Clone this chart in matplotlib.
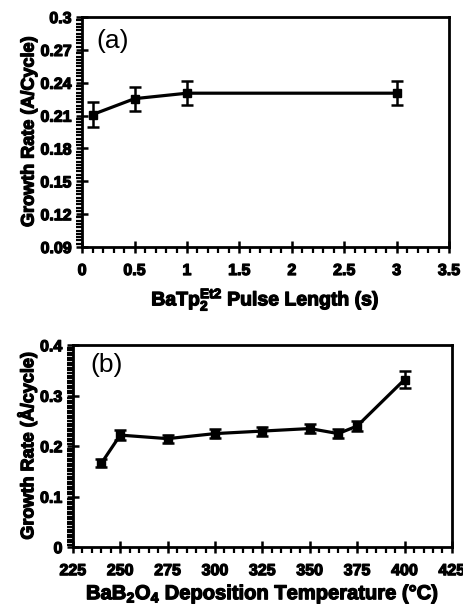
import matplotlib
matplotlib.use("Agg")
import numpy as np
import matplotlib.pyplot as plt
import matplotlib.patheffects as pe

plt.rcParams['font.family'] = ['Liberation Sans', 'DejaVu Sans']
plt.rcParams['mathtext.fontset'] = 'custom'
plt.rcParams['mathtext.rm'] = 'Liberation Sans:bold'
plt.rcParams['mathtext.it'] = 'Liberation Sans:bold'
plt.rcParams['mathtext.bf'] = 'Liberation Sans:bold'
plt.rcParams['mathtext.default'] = 'rm'
plt.rcParams['xtick.direction'] = 'out'
plt.rcParams['ytick.direction'] = 'out'
plt.rcParams['xtick.major.size'] = 4.5
plt.rcParams['ytick.major.size'] = 4.5
plt.rcParams['xtick.major.width'] = 1.8
plt.rcParams['ytick.major.width'] = 1.8
plt.rcParams['xtick.labelsize'] = 11.5
plt.rcParams['ytick.labelsize'] = 11.5
plt.rcParams['xtick.major.pad'] = 7
plt.rcParams['ytick.major.pad'] = 3
plt.rcParams['xtick.top'] = False
plt.rcParams['ytick.right'] = False

# Panel (a) data
pulse_len = [0.1, 0.5, 1.0, 3.0]
rate_a = [0.211, 0.2255, 0.2305, 0.2305]
err_a = [0.011, 0.011, 0.011, 0.011]
xticks_a = [0, 0.5, 1, 1.5, 2, 2.5, 3, 3.5]
xticklabels_a = ['0', '0.5', '1', '1.5', '2', '2.5', '3', '3.5']
yticks_a = [0.09, 0.12, 0.15, 0.18, 0.21, 0.24, 0.27, 0.3]
yticklabels_a = ['0.09', '0.12', '0.15', '0.18', '0.21', '0.24', '0.27', '0.3']

# Panel (b) data
temps = [240, 250, 275, 300, 325, 350, 365, 375, 400]
rate_b = [0.166, 0.222, 0.215, 0.225, 0.230, 0.235, 0.225, 0.240, 0.332]
err_b = [0.008, 0.010, 0.008, 0.009, 0.009, 0.009, 0.009, 0.009, 0.017]
xticks_b = [225, 250, 275, 300, 325, 350, 375, 400, 425]
yticks_b = [0, 0.1, 0.2, 0.3, 0.4]
yticklabels_b = ['0', '0.1', '0.2', '0.3', '0.4']

heavy = [pe.withStroke(linewidth=0.9, foreground='black')]

fig = plt.figure(figsize=(4.64, 6.10), dpi=100)
ax1 = fig.add_axes([0.177, 0.595, 0.791, 0.377])
ax2 = fig.add_axes([0.157, 0.103, 0.817, 0.331])

def style(ax):
    for s in ax.spines.values():
        s.set_linewidth(2.0)
    ax.tick_params(axis='both', which='minor', direction='out', length=4.5, width=1.6,
                   bottom=True, left=True, top=False, right=False)
    # make the major ticks cross the axis line
    for t in ax.xaxis.get_major_ticks():
        t.tick1line.set_marker('|')
        t.tick1line.set_markersize(9)
    for t in ax.yaxis.get_major_ticks():
        t.tick1line.set_marker('_')
        t.tick1line.set_markersize(9)
    for lab in ax.get_xticklabels() + ax.get_yticklabels():
        lab.set_fontweight('bold')
        lab.set_path_effects(heavy)

ax1.errorbar(pulse_len, rate_a, yerr=err_a, color='black', lw=2.3, marker='s',
             markersize=6, capsize=4.3, elinewidth=1.8, capthick=1.8)
ax1.set_xlim(0, 3.5)
ax1.set_ylim(0.09, 0.3)
ax1.set_xticks(xticks_a)
ax1.set_xticklabels(xticklabels_a)
ax1.set_yticks(yticks_a)
ax1.set_yticklabels(yticklabels_a)
ax1.set_xticks(np.arange(0, 3.5001, 0.1), minor=True)
ax1.set_yticks(np.arange(0.09, 0.30001, 0.003), minor=True)
style(ax1)
ax1.set_xlabel(r'BaTp$_2^{Et2}$ Pulse Length (s)', fontsize=14, fontweight='bold',
               labelpad=6, path_effects=heavy)
ax1.set_ylabel('Growth Rate (A/Cycle)', fontsize=13, fontweight='bold', labelpad=2,
               path_effects=heavy)
ax1.text(0.04, 0.95, '(a)', transform=ax1.transAxes, fontsize=19, va='top', ha='left')

ax2.errorbar(temps, rate_b, yerr=err_b, color='black', lw=2.3, marker='s',
             markersize=6, capsize=4.3, elinewidth=1.8, capthick=1.8)
ax2.set_xlim(225, 425)
ax2.set_ylim(0, 0.4)
ax2.set_xticks(xticks_b)
ax2.set_yticks(yticks_b)
ax2.set_yticklabels(yticklabels_b)
ax2.set_xticks(np.arange(225, 425.01, 5), minor=True)
ax2.set_yticks(np.arange(0, 0.4001, 0.005), minor=True)
style(ax2)
ax2.set_xlabel(r'BaB$_2$O$_4$ Deposition Temperature (°C)', fontsize=14.5, fontweight='bold',
               labelpad=3, path_effects=heavy)
ax2.set_ylabel('Growth Rate (Å/cycle)', fontsize=13, fontweight='bold', labelpad=2,
               path_effects=heavy)
ax2.text(0.045, 0.96, '(b)', transform=ax2.transAxes, fontsize=19, va='top', ha='left')

fig.savefig('out.png', dpi=100)
